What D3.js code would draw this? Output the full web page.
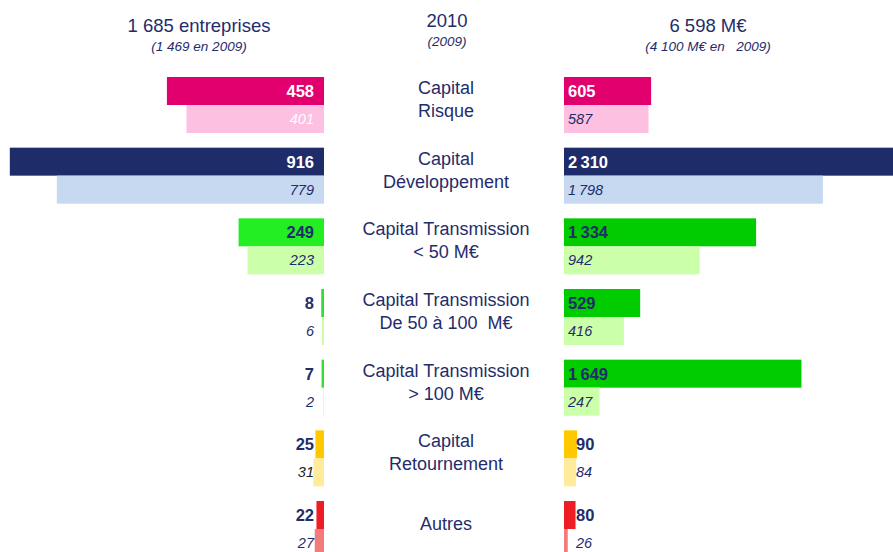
<!DOCTYPE html>
<html>
<head>
<meta charset="utf-8">
<script src="https://cdn.jsdelivr.net/npm/d3@7"></script>
<style>
  body { margin: 0; background: #fff; }
  svg { display: block; font-family: "Liberation Sans", Arial, sans-serif; }
  text { white-space: pre; }
</style>
</head>
<body>
<div class="canvas"></div>
<script>
// categories (one line per entry)
const categories = [
	['Capital', 'Risque'],
	['Capital', 'Développement'],
	['Capital Transmission', '< 50 M€'],
	['Capital Transmission', 'De 50 à 100  M€'],
	['Capital Transmission', '> 100 M€'],
	['Capital', 'Retournement'],
	['Autres']
];

// number of companies
const entreprises2010 = [458, 916, 249, 8, 7, 25, 22];
const entreprises2009 = [401, 779, 223, 6, 2, 31, 27];

// amounts invested, M€
const montants2010 = [605, 2310, 1334, 529, 1649, 90, 80];
const montants2009 = [587, 1798, 942, 416, 247, 84, 26];

// headers
const headLeft = ['1 685 entreprises', '(1 469 en 2009)'];
const headMid = ['2010', '(2009)'];
const headRight = ['6 598 M€', '(4 100 M€ en   2009)'];

// colours per category
const darkLeft = ['#e2006e', '#1f2c6a', '#22ee22', '#33dd33', '#33dd33', '#ffc800', '#ee1c24'];
const darkRight = ['#e2006e', '#1f2c6a', '#00cc00', '#00cc00', '#00cc00', '#ffc800', '#ee1c24'];
const light = ['#fdc0e1', '#c6d9f1', '#ccffaa', '#ccffaa', '#ccffaa', '#ffeb9c', '#f47b7b'];
const navy = '#1f2d6b';
const darkLabel = ['#fff', '#fff', navy, navy, navy, navy, navy];
const lightLabelLeft = ['#fff', navy, navy, navy, navy, '#222', navy];

const width = 893, height = 552;

const svg = d3.select('.canvas').append('svg')
	.attr('width', width)
	.attr('height', height);

const idx = d3.range(categories.length);

// scales
const y = d3.scaleBand()
	.domain(idx)
	.range([77, 557])
	.paddingInner(0.2076)
	.paddingOuter(0);
const half = y.bandwidth() / 2;

const xL = d3.scaleLinear().domain([0, 1000]).range([324, 324 - 343]);
const xR = d3.scaleLinear().domain([0, 1000]).range([564, 564 + 144]);

const fmt = d3.formatLocale({decimal: ',', thousands: '\u2009', grouping: [3], currency: ['', '']}).format(',d');

// headers
const heads = [
	{lines: headLeft, x: 199, y: [32, 51]},
	{lines: headMid, x: 447, y: [27, 46]},
	{lines: headRight, x: 708, y: [32, 51]}
];
heads.forEach(h => {
	svg.append('text')
		.attr('x', h.x).attr('y', h.y[0])
		.attr('text-anchor', 'middle')
		.attr('font-size', 18.5)
		.attr('fill', navy)
		.text(h.lines[0]);
	svg.append('text')
		.attr('x', h.x).attr('y', h.y[1])
		.attr('text-anchor', 'middle')
		.attr('font-size', 13.5)
		.attr('font-style', 'italic')
		.attr('fill', navy)
		.text(h.lines[1]);
});

const rows = svg.selectAll('g.row')
	.data(idx)
	.enter()
	.append('g')
	.attr('class', 'row')
	.attr('transform', i => `translate(0, ${y(i)})`);

// left bars
rows.append('rect')
	.attr('x', i => xL(entreprises2010[i]))
	.attr('y', 0)
	.attr('width', i => xL(0) - xL(entreprises2010[i]))
	.attr('height', half)
	.attr('fill', i => darkLeft[i]);
rows.append('rect')
	.attr('x', i => xL(entreprises2009[i]))
	.attr('y', half)
	.attr('width', i => xL(0) - xL(entreprises2009[i]))
	.attr('height', half)
	.attr('fill', i => light[i]);

// right bars
rows.append('rect')
	.attr('x', xR(0))
	.attr('y', 0)
	.attr('width', i => xR(montants2010[i]) - xR(0))
	.attr('height', half)
	.attr('fill', i => darkRight[i]);
rows.append('rect')
	.attr('x', xR(0))
	.attr('y', half)
	.attr('width', i => xR(montants2009[i]) - xR(0))
	.attr('height', half)
	.attr('fill', i => light[i]);

// left labels
rows.append('text')
	.attr('x', xL(0) - 10)
	.attr('y', half / 2 + 6)
	.attr('text-anchor', 'end')
	.attr('font-size', 16.5)
	.attr('font-weight', 'bold')
	.attr('fill', i => darkLabel[i])
	.text(i => fmt(entreprises2010[i]));
rows.append('text')
	.attr('x', xL(0) - 10)
	.attr('y', half * 1.5 + 5)
	.attr('text-anchor', 'end')
	.attr('font-size', 14.5)
	.attr('font-style', 'italic')
	.attr('fill', i => lightLabelLeft[i])
	.text(i => fmt(entreprises2009[i]));

// right labels
const rx = v => v < 100 ? xR(0) + 12 : xR(0) + 4;
rows.append('text')
	.attr('x', i => rx(montants2010[i]))
	.attr('y', half / 2 + 6)
	.attr('font-size', 16.5)
	.attr('font-weight', 'bold')
	.attr('fill', i => darkLabel[i])
	.text(i => fmt(montants2010[i]));
rows.append('text')
	.attr('x', i => rx(montants2009[i]))
	.attr('y', half * 1.5 + 5)
	.attr('font-size', 14.5)
	.attr('font-style', 'italic')
	.attr('fill', navy)
	.text(i => fmt(montants2009[i]));

// category labels
rows.append('text')
	.attr('x', 446)
	.attr('y', i => categories[i].length > 1 ? 17 : 29)
	.attr('text-anchor', 'middle')
	.attr('font-size', 18)
	.attr('fill', navy)
	.selectAll('tspan')
	.data(i => categories[i])
	.enter()
	.append('tspan')
	.attr('x', 446)
	.attr('dy', (d, j) => j ? 23 : 0)
	.text(d => d);
</script>
</body>
</html>
